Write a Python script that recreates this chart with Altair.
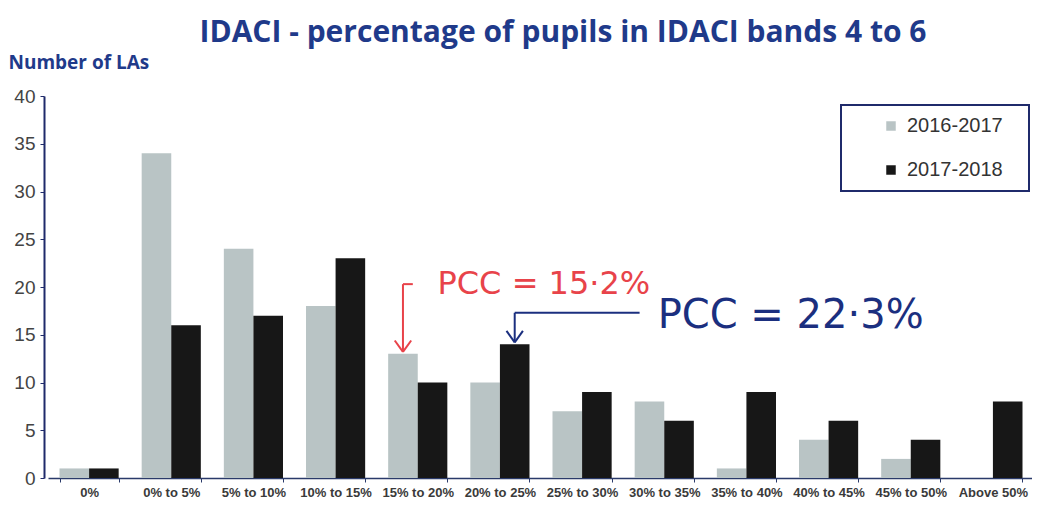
import altair as alt
import pandas as pd

categories = ["0%", "0% to 5%", "5% to 10%", "10% to 15%", "15% to 20%", "20% to 25%",
              "25% to 30%", "30% to 35%", "35% to 40%", "40% to 45%", "45% to 50%", "Above 50%"]
series = ["2016-2017", "2017-2018"]
values_2016 = [1, 34, 24, 18, 13, 10, 7, 8, 1, 4, 2, 0]
values_2018 = [1, 16, 17, 23, 10, 14, 9, 6, 9, 6, 4, 8]

# annotation segments (x in category-step units, y in data units)
seg_x = [4.32, 4.32, 4.22, 4.42, 5.68, 5.68, 5.58, 5.78]
seg_y = [20.3, 20.3, 14.4, 14.4, 17.3, 17.3, 15.4, 15.4]
seg_x2 = [4.32, 4.44, 4.32, 4.32, 7.2, 5.68, 5.68, 5.68]
seg_y2 = [13.2, 20.3, 13.2, 13.2, 17.3, 14.2, 14.2, 14.2]
seg_color = ["red"] * 4 + ["blue"] * 4

note_text = ["PCC = 15·2%", "PCC = 22·3%"]
note_x = [4.74, 7.42]
note_y = [20.3, 17.0]
note_color = ["red", "blue"]
note_size = [32, 40]

NAVY = "#1f3a8a"
rows = []
for c, a, b in zip(categories, values_2016, values_2018):
    rows.append({"category": c, "series": series[0], "value": a})
    rows.append({"category": c, "series": series[1], "value": b})
df = pd.DataFrame(rows)

seg_df = pd.DataFrame({"x": seg_x, "y": seg_y, "x2": seg_x2, "y2": seg_y2, "c": seg_color})
note_df = pd.DataFrame({"t": note_text, "x": note_x, "y": note_y, "c": note_color, "s": note_size})

XRANGE = [4, 990]
yscale = alt.Scale(domain=[0, 40], nice=False)
col_scale = alt.Scale(domain=["red", "blue"], range=["#e8434a", "#1b2f7f"])

bars = alt.Chart(df).mark_bar().encode(
    x=alt.X("category:N", sort=categories, title=None,
            scale=alt.Scale(paddingInner=0.28, paddingOuter=0.14, range=XRANGE),
            axis=alt.Axis(labelAngle=0, labelFont="Liberation Sans", labelFontSize=13,
                          labelFontWeight="bold", labelColor="#3a3a3a", labelPadding=4,
                          domainColor="#2a3a6a", domainWidth=1.5, tickColor="#2a3a6a",
                          tickSize=4, tickBand="extent")),
    xOffset=alt.XOffset("series:N", sort=series, scale=alt.Scale(paddingInner=0)),
    y=alt.Y("value:Q", scale=yscale,
            axis=alt.Axis(values=list(range(0, 41, 5)), grid=False, title="Number of LAs",
                          titleAngle=0, titleX=-36, titleY=-24, titleAlign="left",
                          titleFont="Open Sans", titleFontSize=19, titleFontWeight="bold",
                          titleColor=NAVY, labelFont="Liberation Sans", labelFontSize=19,
                          labelColor="#444444", labelPadding=5, domainColor="#1f2a6b",
                          domainWidth=2, tickColor="#1f2a6b", tickSize=4)),
    color=alt.Color("series:N", scale=alt.Scale(domain=series, range=["#b9c4c5", "#171717"]),
                    legend=alt.Legend(title=None, orient="none", legendX=797, legendY=9,
                                      strokeColor="#1f2a6b", padding=11, rowPadding=24,
                                      symbolOffset=29, symbolType="square", symbolSize=90,
                                      labelFont="Liberation Sans", labelFontSize=20,
                                      labelColor="#333333", labelOffset=6,
                                      labelExpr="datum.label + '\u2800'")),
)

xq = alt.Scale(domain=[0, 12], nice=False, zero=False, range=XRANGE)

segs = alt.Chart(seg_df).mark_rule(strokeWidth=2).encode(
    x=alt.X("x:Q", scale=xq, axis=None),
    x2="x2:Q",
    y=alt.Y("y:Q", scale=yscale),
    y2="y2:Q",
    color=alt.Color("c:N", scale=col_scale, legend=None),
)

notes = alt.Chart(note_df).mark_text(align="left", baseline="middle", font="DejaVu Sans").encode(
    x=alt.X("x:Q", scale=xq, axis=None),
    y=alt.Y("y:Q", scale=yscale),
    text="t:N",
    size=alt.Size("s:Q", scale=None, legend=None),
    color=alt.Color("c:N", scale=col_scale, legend=None),
)

chart = alt.layer(bars, segs, notes).resolve_scale(x="independent", color="independent").properties(
    width=988, height=382,
    autosize=alt.AutoSizeParams(type="none"),
    padding={"left": 36, "top": 88, "right": 0, "bottom": 25},
    title=alt.TitleParams("IDACI - percentage of pupils in IDACI bands 4 to 6",
                          font="Open Sans", fontSize=30, fontWeight="bold", color=NAVY,
                          anchor="middle", dx=25, offset=5),
).configure_view(stroke=None).configure_legend(strokeWidth=2)

chart.save("out.html", embed_options={"renderer": "svg", "actions": False})
